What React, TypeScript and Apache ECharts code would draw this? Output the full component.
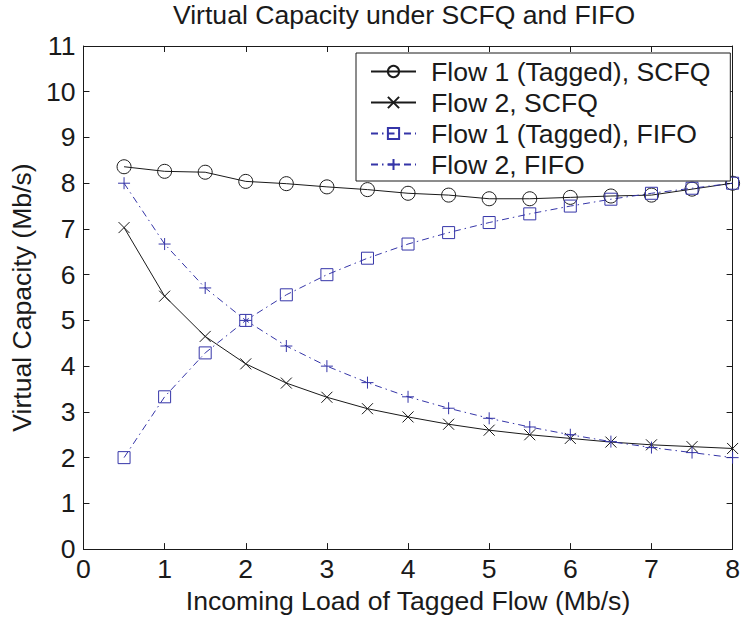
import React, { useEffect, useRef } from "react";
import * as echarts from "echarts";

// Incoming load of the tagged flow (Mb/s)
const loads = [0.5, 1, 1.5, 2, 2.5, 3, 3.5, 4, 4.5, 5, 5.5, 6, 6.5, 7, 7.5, 8];

// Virtual capacity (Mb/s) for each flow / scheduler
const scfqTagged = [8.36, 8.26, 8.24, 8.04, 7.99, 7.92, 7.86, 7.78, 7.74, 7.66, 7.66, 7.69, 7.72, 7.74, 7.87, 8.0];
const scfqFlow2 = [7.03, 5.53, 4.65, 4.05, 3.63, 3.32, 3.07, 2.89, 2.73, 2.6, 2.5, 2.42, 2.34, 2.28, 2.24, 2.2];
const fifoTagged = [2.0, 3.33, 4.29, 5.0, 5.56, 6.0, 6.36, 6.67, 6.92, 7.14, 7.33, 7.5, 7.65, 7.78, 7.89, 8.0];
const fifoFlow2 = [8.0, 6.67, 5.71, 5.0, 4.44, 4.0, 3.64, 3.33, 3.08, 2.86, 2.67, 2.5, 2.35, 2.22, 2.11, 2.0];

const seriesNames = [
  "Flow 1 (Tagged), SCFQ",
  "Flow 2, SCFQ",
  "Flow 1 (Tagged), FIFO",
  "Flow 2, FIFO",
];

const FONT = "'Liberation Sans', Arial, Helvetica, sans-serif";
const FONT_SIZE = 26.6;
const BLACK = "#1a1a1a";
const BLUE = "#3535a8";
const DASH_DOT = [7, 4, 1.5, 4];

const CROSS = "path://M0,0L10,10M10,0L0,10";
const PLUS = "path://M5,0L5,10M0,5L10,5";

const pairs = (ys: number[]) => loads.map((x, i) => [x, ys[i]]);

function makeSeries(
  name: string,
  ys: number[],
  color: string,
  symbol: string,
  symbolSize: number,
  dashed: boolean
) {
  return {
    name,
    type: "line",
    data: pairs(ys),
    symbol,
    symbolSize,
    showAllSymbol: true,
    lineStyle: { color, width: 1, type: dashed ? DASH_DOT : "solid" },
    itemStyle: { color: "transparent", borderColor: color, borderWidth: 1 },
    emphasis: { disabled: true },
  };
}

export default function App() {
  const ref = useRef<HTMLDivElement>(null);

  useEffect(() => {
    if (!ref.current) return;
    const chart = echarts.init(ref.current, undefined, { renderer: "svg" });

    const axisLine = { show: true, onZero: false, lineStyle: { color: BLACK, width: 1 } };
    const axisTick = { show: true, inside: true, length: 6, lineStyle: { color: BLACK, width: 1 } };
    const text = { fontSize: FONT_SIZE, color: BLACK, fontFamily: FONT };

    chart.setOption({
      animation: false,
      backgroundColor: "#fff",
      textStyle: { fontFamily: FONT },
      graphic: [
        {
          type: "text",
          x: 404,
          y: 15,
          style: {
            text: "Virtual Capacity under SCFQ and FIFO",
            font: `${FONT_SIZE}px ${FONT}`,
            fill: BLACK,
            textAlign: "center",
            textVerticalAlign: "middle",
          },
        },
      ],
      grid: { left: 74, top: 46, right: 9, bottom: 61, containLabel: false },
      legend: {
        orient: "vertical",
        left: 356,
        top: 53,
        data: seriesNames,
        itemWidth: 45,
        itemHeight: 14,
        itemGap: 4,
        padding: [5, 20, 3, 14],
        borderColor: BLACK,
        borderWidth: 1,
        backgroundColor: "#fff",
        textStyle: { ...text, padding: [0, 0, 0, 10] },
      },
      xAxis: [
        {
          type: "value",
          min: 0,
          max: 8,
          interval: 1,
          position: "bottom",
          axisLine,
          axisTick,
          splitLine: { show: false },
          axisLabel: { ...text, margin: 6 },
          name: "Incoming Load of Tagged Flow (Mb/s)",
          nameLocation: "middle",
          nameGap: 35,
          nameTextStyle: text,
        },
        {
          type: "value",
          min: 0,
          max: 8,
          interval: 1,
          position: "top",
          axisLine,
          axisTick,
          splitLine: { show: false },
          axisLabel: { show: false },
        },
      ],
      yAxis: [
        {
          type: "value",
          min: 0,
          max: 11,
          interval: 1,
          position: "left",
          axisLine,
          axisTick,
          splitLine: { show: false },
          axisLabel: { ...text, margin: 8 },
          name: "Virtual Capacity (Mb/s)",
          nameLocation: "middle",
          nameGap: 40,
          nameTextStyle: text,
        },
        {
          type: "value",
          min: 0,
          max: 11,
          interval: 1,
          position: "right",
          axisLine,
          axisTick,
          splitLine: { show: false },
          axisLabel: { show: false },
        },
      ],
      series: [
        makeSeries(seriesNames[0], scfqTagged, BLACK, "circle", 14, false),
        makeSeries(seriesNames[1], scfqFlow2, BLACK, CROSS, 11, false),
        makeSeries(seriesNames[2], fifoTagged, BLUE, "rect", 12, true),
        makeSeries(seriesNames[3], fifoFlow2, BLUE, PLUS, 12, true),
      ],
    });

    return () => chart.dispose();
  }, []);

  return (
    <div
      ref={ref}
      style={{ position: "absolute", left: 0, top: 0, width: 743, height: 619 }}
    />
  );
}
